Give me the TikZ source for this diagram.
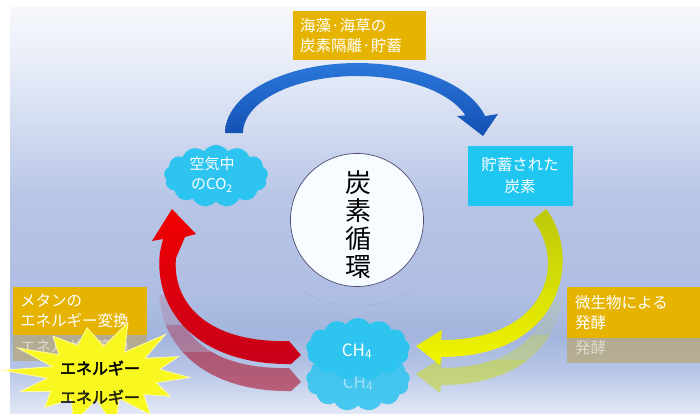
\documentclass[tikz,border=0pt]{standalone}
\usepackage{fontspec}
\setmainfont[AutoFakeBold=2.5]{Noto Sans CJK JP}
\usetikzlibrary{shapes.symbols}
\definecolor{gold}{HTML}{E6B400}
\definecolor{cyanbox}{HTML}{1EC6F0}
\definecolor{cloudc}{HTML}{2EC4F0}
\definecolor{bg0}{HTML}{F7F8FD}
\definecolor{bg1}{HTML}{E8EDF8}
\definecolor{bg2}{HTML}{D4DDF1}
\definecolor{bg3}{HTML}{B7C5E6}
\definecolor{bg4}{HTML}{AEBDE2}
\definecolor{bg5}{HTML}{A3B5DD}
\definecolor{bg6}{HTML}{B7C6E7}
\definecolor{bg7}{HTML}{D0DAF0}
\definecolor{bg8}{HTML}{E2E8F6}
\definecolor{blueA}{HTML}{2A78DA}
\definecolor{blueB}{HTML}{1450B4}
\definecolor{redA}{HTML}{F00000}
\definecolor{redB}{HTML}{C8001A}
\definecolor{redR}{HTML}{B0203A}
\definecolor{yelA}{HTML}{BCC80A}
\definecolor{yelB}{HTML}{F2F500}
\definecolor{yelR}{HTML}{C8D840}
\definecolor{starY}{HTML}{F8F820}
\definecolor{starE}{HTML}{FFFBA8}
\definecolor{circF}{HTML}{F6FCFF}
\definecolor{circD}{HTML}{504870}
\definecolor{reflbox}{HTML}{B8A878}
\tikzset{
  goldbox/.style={fill=gold, text=white, minimum height=45, inner sep=7,
    anchor=north west, align=left, font=\fontsize{15.5}{20}\selectfont},
  reflbx/.style={fill=reflbox, fill opacity=0.75, text opacity=0.55, text=white,
    inner sep=7, anchor=north west, align=left, font=\fontsize{15.5}{20}\selectfont},
  cloudnode/.style={cloud, cloud puffs=13, cloud puff arc=110, fill=cloudc,
    minimum width=104, minimum height=62, inner sep=0},
  cloudtext/.style={text=white, align=center, font=\fontsize{15}{20}\selectfont},
}
\begin{document}
\begin{tikzpicture}[x=1pt,y=-1pt]
\useasboundingbox (0,0) rectangle (700,413);
\clip (0,0) rectangle (700,413);
\fill[white] (0,0) rectangle (700,413);
% background
\shade[top color=bg0,bottom color=bg1] (10,7) rectangle (700,60.6);
\shade[top color=bg1,bottom color=bg2] (10,60) rectangle (700,120.6);
\shade[top color=bg2,bottom color=bg3] (10,120) rectangle (700,200.6);
\shade[top color=bg3,bottom color=bg4] (10,200) rectangle (700,300.6);
\shade[top color=bg4,bottom color=bg5] (10,300) rectangle (700,335.6);
\shade[top color=bg5,bottom color=bg6] (10,335) rectangle (700,370.6);
\shade[top color=bg6,bottom color=bg7] (10,370) rectangle (700,395.6);
\shade[top color=bg7,bottom color=bg8] (10,395) rectangle (700,413);

\def\bluepath{plot[domain=180:346,samples=50] ({357+132*cos(\x)},{133+70*sin(\x)}) -- (498,114) -- (483,136) -- (457,116) -- plot[domain=342:180,samples=50] ({357+114*cos(\x)},{133+57*sin(\x)}) -- cycle}
\def\redpath{(291,364) .. controls (197,365) and (153,310) .. (160,252) -- (163,239) -- (152,241) -- (172,209) -- (196,234) -- (185,237) -- (176,258) .. controls (172,302) and (206,343) .. (289,341) -- (301,355) -- cycle}
\def\yelpath{(546,209) .. controls (582,255) and (565,357) .. (441,357) -- (440,365) -- (416,346) -- (442,330) -- (441,340) .. controls (548,340) and (566,262) .. (533,220) -- cycle}

% reflections (stepped fade)
\foreach \yc/\op in {295/0.15, 325/0.3, 352/0.4} {
  \begin{scope}
    \clip (100,\yc) rectangle (330,413);
    \fill[redR, opacity=\op, shift={(0,27)}] \redpath;
  \end{scope}
}
\foreach \yc/\op in {300/0.15, 335/0.3, 360/0.4} {
  \begin{scope}
    \clip (400,\yc) rectangle (600,413);
    \fill[yelR, opacity=\op, shift={(0,28)}] \yelpath;
  \end{scope}
}
\draw[circD, opacity=0.12] (305,292) .. controls (330,310) and (385,310) .. (410,292);

% arrows
\shade[top color=blueA, bottom color=blueB] \bluepath;
\shade[top color=redA, bottom color=redB] \redpath;
\shade[top color=yelA, bottom color=yelB] \yelpath;

% central circle
\node[circle, minimum size=133, fill=circF, draw=circD, line width=0.7] (cyc) at (357,220) {};
\node[align=center, text=black, font=\fontsize{26}{28}\selectfont] (cyctext) at (358,225) {炭\\素\\循\\環};

% CO2 cloud
\node[cloudnode] (co2) at (216,176) {};
\node[cloudtext] (co2t) at (212,175) {空気中\\のCO\textsubscript{2}};

% stored carbon box
\node[fill=cyanbox, minimum width=105, minimum height=60, text=white, align=center,
  font=\fontsize{15.5}{22}\selectfont] (store) at (520,176) {貯蓄された\\炭素};

% CH4 cloud + reflection
\node[cloudnode, opacity=0.85] (ch4r) at (358,380) {};
\node[text=white, text opacity=0.5, font=\fontsize{17}{20}\selectfont] (ch4rt) at (358,383) {CH\textsubscript{4}};
\node[cloudnode] (ch4) at (358,349) {};
\node[text=white, font=\fontsize{17}{20}\selectfont] (ch4t) at (357,351) {CH\textsubscript{4}};

% top label
\node[goldbox, minimum width=133, minimum height=46, text width=119] (toplab) at (293,11) {海藻·海草の\\炭素隔離·貯蓄};

% left label + reflection
\node[reflbx, minimum width=134, minimum height=28, text width=120] (leftr) at (13,332) {エネルギー変換};
\node[goldbox, minimum width=134, text width=120] (leftlab) at (13,287) {メタンの\\エネルギー変換};

% right label + reflection
\node[reflbx, minimum width=134, minimum height=25, text width=118, inner sep=8] (rightr) at (567,332) {発酵};
\node[goldbox, minimum width=134, text width=118, inner sep=8] (rightlab) at (567,287) {微生物による\\発酵};

% starburst
\fill[starY, draw=starE, line width=0.8] plot[samples at={0,...,27}]
  ({100+(mod(\x,2)==0?90:55)*(1+0.10*sin(\x*137))*cos(\x*360/28+4)},
   {374+(mod(\x,2)==0?50:28)*(1+0.10*sin(\x*137))*sin(\x*360/28+4)}) -- cycle;
\node[text=black, font=\fontsize{16}{18}\selectfont\bfseries] (energy) at (100,368) {エネルギー};
\node[text=black, text opacity=0.8, font=\fontsize{16}{18}\selectfont\bfseries] (energyr) at (100,397) {エネルギー};
\end{tikzpicture}
\end{document}
